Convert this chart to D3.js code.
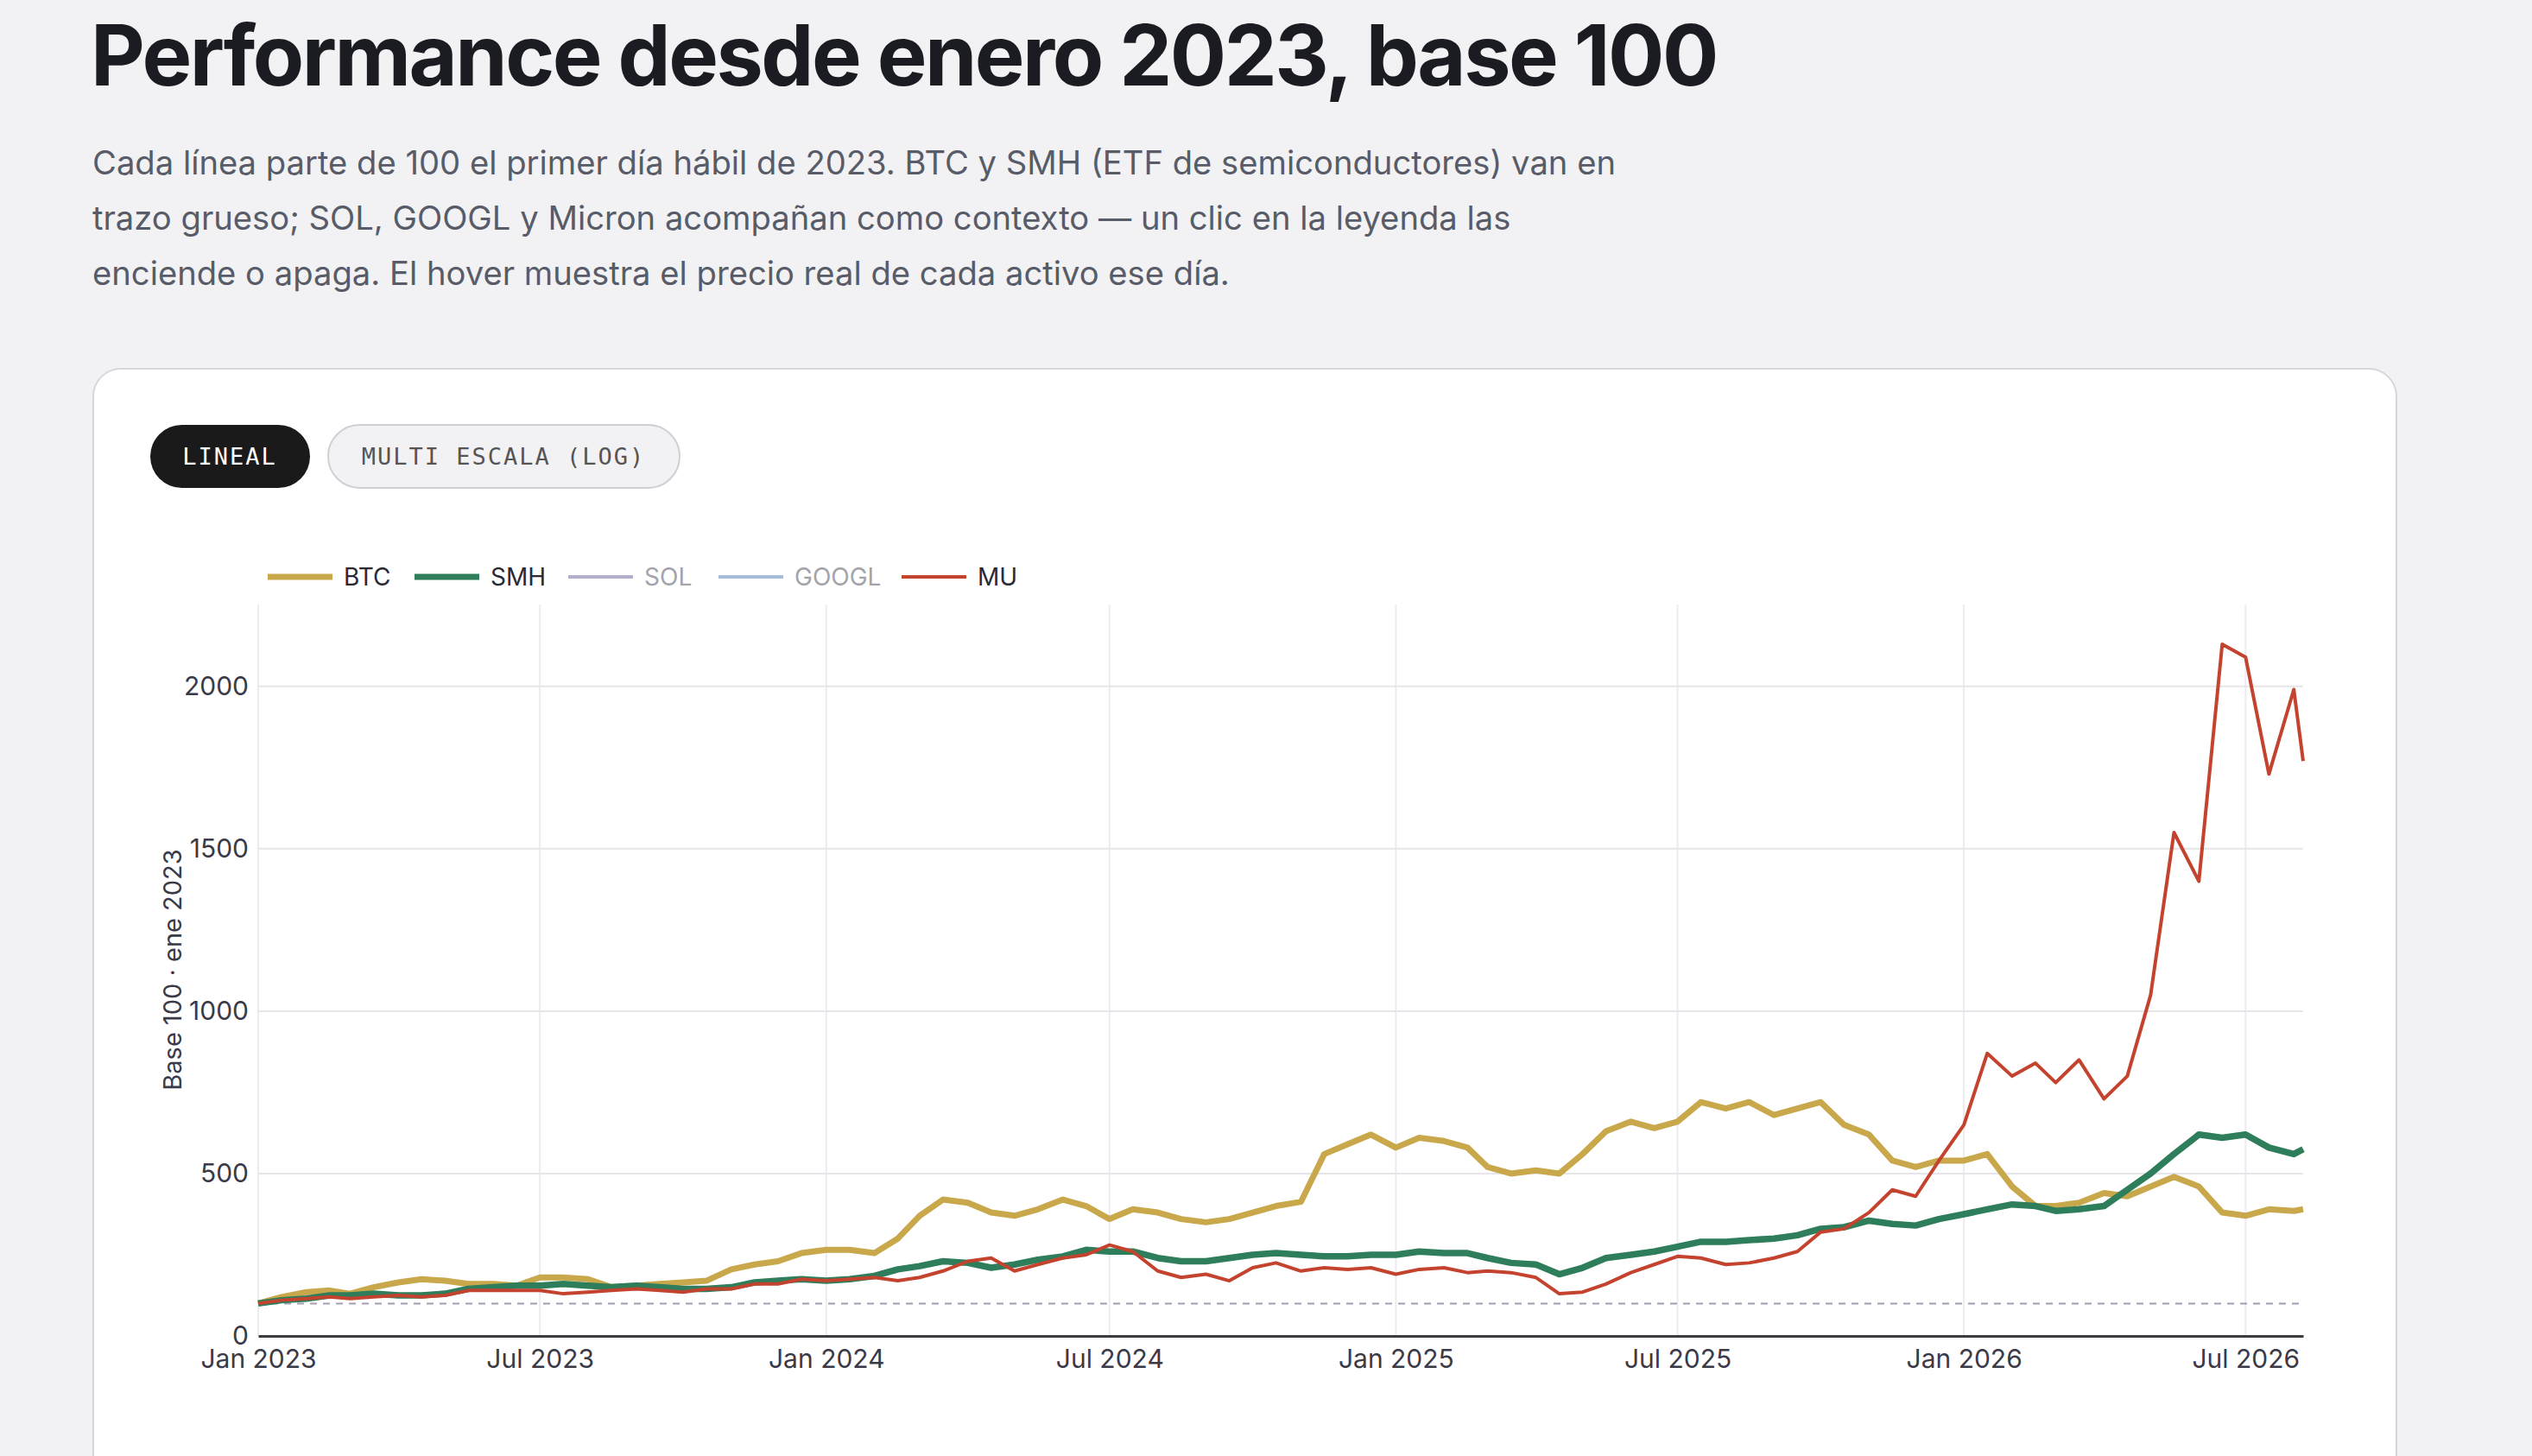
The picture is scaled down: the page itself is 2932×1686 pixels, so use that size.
<!DOCTYPE html>
<html>
<head>
<meta charset="utf-8">
<script src="https://cdn.jsdelivr.net/npm/d3@7"></script>
<style>
  body { margin: 0; background: #f2f2f4; }
  svg { display: block; }
</style>
</head>
<body>
<svg id="chart" width="2932" height="1686"></svg>
<script>
// semi-monthly sample dates (1st and 16th), last point Aug 7 2026
const dates = [
  "2023-01-01","2023-01-16","2023-02-01","2023-02-16","2023-03-01","2023-03-16","2023-04-01","2023-04-16","2023-05-01","2023-05-16","2023-06-01","2023-06-16",
  "2023-07-01","2023-07-16","2023-08-01","2023-08-16","2023-09-01","2023-09-16","2023-10-01","2023-10-16","2023-11-01","2023-11-16","2023-12-01","2023-12-16",
  "2024-01-01","2024-01-16","2024-02-01","2024-02-16","2024-03-01","2024-03-16","2024-04-01","2024-04-16","2024-05-01","2024-05-16","2024-06-01","2024-06-16",
  "2024-07-01","2024-07-16","2024-08-01","2024-08-16","2024-09-01","2024-09-16","2024-10-01","2024-10-16","2024-11-01","2024-11-16","2024-12-01","2024-12-16",
  "2025-01-01","2025-01-16","2025-02-01","2025-02-16","2025-03-01","2025-03-16","2025-04-01","2025-04-16","2025-05-01","2025-05-16","2025-06-01","2025-06-16",
  "2025-07-01","2025-07-16","2025-08-01","2025-08-16","2025-09-01","2025-09-16","2025-10-01","2025-10-16","2025-11-01","2025-11-16","2025-12-01","2025-12-16",
  "2026-01-01","2026-01-16","2026-02-01","2026-02-16","2026-03-01","2026-03-16","2026-04-01","2026-04-16","2026-05-01","2026-05-16","2026-06-01","2026-06-16",
  "2026-07-01","2026-07-16","2026-08-01","2026-08-07"
];

const btc = [
  100,120,135,140,130,150,165,175,170,160,160,155, 180,180,175,150,155,160,165,170,205,220,230,255,
  265,265,255,300,370,420,410,380,370,390,420,400, 360,390,380,360,350,360,380,400,413,560,590,620,
  580,610,600,580,520,500,510,500,560,630,660,640, 660,720,700,720,680,700,720,650,620,540,520,540,
  540,560,460,400,400,410,440,430,460,490,460,380, 370,390,385,390
];
const smh = [
  100,110,115,125,125,130,125,125,130,145,150,155, 155,160,155,150,155,150,145,145,150,165,170,175,
  170,175,185,205,215,230,225,210,220,235,245,265, 260,260,240,230,230,240,250,255,250,245,245,250,
  250,260,255,255,240,225,220,190,210,240,250,260, 275,290,290,295,300,310,330,335,355,345,340,360,
  375,390,405,400,385,390,400,450,500,560,620,610, 620,580,560,575
];
const mu = [
  100,110,115,120,115,120,125,120,125,140,140,140, 140,130,135,140,145,140,135,145,145,160,160,175,
  170,175,180,170,180,200,230,240,200,220,240,250, 280,260,200,180,190,170,210,225,200,210,205,210,
  190,205,210,195,200,195,180,130,135,160,195,220, 245,240,220,225,240,260,320,330,380,450,430,540,
  650,870,800,840,780,850,730,800,1050,1550,1400,2130, 2090,1730,1990,1770
];

const legendItems = [
  {name: "BTC", color: "#c9a84c", on: true, thick: true},
  {name: "SMH", color: "#2e7d5b", on: true, thick: true},
  {name: "SOL", color: "#b5aecb", on: false, thick: false},
  {name: "GOOGL", color: "#a6bcdb", on: false, thick: false},
  {name: "MU", color: "#c4432e", on: true, thick: false}
];
const yTicks = [0, 500, 1000, 1500, 2000];
const xTicks = ["2023-01-01","2023-07-01","2024-01-01","2024-07-01","2025-01-01","2025-07-01","2026-01-01","2026-07-01"];

const parse = d3.timeParse("%Y-%m-%d");
const svg = d3.select("#chart");
const font = "Inter, 'Noto Sans', sans-serif";

// header
svg.append("text").attr("x", 105).attr("y", 99)
  .attr("font-family", font).attr("font-weight", 700).attr("font-size", 97)
  .attr("letter-spacing", -2.5).attr("fill", "#1b1b22")
  .text("Performance desde enero 2023, base 100");

const sub = [
  "Cada línea parte de 100 el primer día hábil de 2023. BTC y SMH (ETF de semiconductores) van en",
  "trazo grueso; SOL, GOOGL y Micron acompañan como contexto — un clic en la leyenda las",
  "enciende o apaga. El hover muestra el precio real de cada activo ese día."
];
svg.append("g").selectAll("text").data(sub).enter().append("text")
  .attr("x", 107).attr("y", (d, i) => 202 + i * 64)
  .attr("font-family", font).attr("font-size", 38.2).attr("fill", "#585c68")
  .text(d => d);

// card
svg.append("rect").attr("x", 108).attr("y", 427).attr("width", 2667).attr("height", 1400)
  .attr("rx", 32).attr("fill", "#fff").attr("stroke", "#d6d6db").attr("stroke-width", 2);

// toggle buttons
const mono = "'DejaVu Sans Mono', 'Liberation Mono', monospace";
svg.append("rect").attr("x", 174).attr("y", 492).attr("width", 185).attr("height", 73)
  .attr("rx", 36.5).attr("fill", "#1a1a1a");
svg.append("text").attr("x", 266).attr("y", 538).attr("text-anchor", "middle")
  .attr("font-family", mono).attr("font-size", 27).attr("letter-spacing", 2).attr("fill", "#fff")
  .text("LINEAL");
svg.append("rect").attr("x", 380).attr("y", 492).attr("width", 407).attr("height", 73)
  .attr("rx", 36.5).attr("fill", "#f2f2f4").attr("stroke", "#cfcfd5").attr("stroke-width", 2);
svg.append("text").attr("x", 583).attr("y", 538).attr("text-anchor", "middle")
  .attr("font-family", mono).attr("font-size", 27).attr("letter-spacing", 2).attr("fill", "#555")
  .text("MULTI ESCALA (LOG)");

// legend
const legX = [310, 480, 658, 832, 1044];
const leg = svg.append("g").selectAll("g").data(legendItems).enter().append("g")
  .attr("transform", (d, i) => `translate(${legX[i]},668)`);
leg.append("line").attr("x1", 0).attr("x2", 75)
  .attr("stroke", d => d.color).attr("stroke-width", d => d.thick ? 7 : 4);
leg.append("text").attr("x", 88).attr("y", 10)
  .attr("font-family", font).attr("font-size", 28)
  .attr("fill", d => d.on ? "#2a2a35" : "#a3a3ab").text(d => d.name);

// plot
const x = d3.scaleTime().domain([parse("2023-01-01"), parse("2026-08-07")]).range([299, 2667]);
const y = d3.scaleLinear().domain([0, 2252]).range([1547, 700]);

svg.append("g").selectAll("line").data(xTicks).enter().append("line")
  .attr("x1", d => x(parse(d))).attr("x2", d => x(parse(d)))
  .attr("y1", 700).attr("y2", 1547).attr("stroke", "#ececf0").attr("stroke-width", 2);
svg.append("g").selectAll("line").data(yTicks.slice(1)).enter().append("line")
  .attr("x1", 299).attr("x2", 2667).attr("y1", d => y(d)).attr("y2", d => y(d))
  .attr("stroke", "#e6e6ea").attr("stroke-width", 2);

const yAxis = svg.append("g").attr("transform", "translate(296,0)")
  .call(d3.axisLeft(y).tickValues(yTicks).tickFormat(d3.format("d")).tickSize(0).tickPadding(8));
yAxis.select(".domain").remove();
yAxis.selectAll("text").attr("font-family", font).attr("font-size", 30).attr("fill", "#3a3a48");

const xAxis = svg.append("g").attr("transform", "translate(0,1547)")
  .call(d3.axisBottom(x).tickValues(xTicks.map(parse)).tickFormat(d3.timeFormat("%b %Y")).tickSize(0).tickPadding(16));
xAxis.select(".domain").attr("stroke", "#3b3b40").attr("stroke-width", 3);
xAxis.selectAll("text").attr("font-family", font).attr("font-size", 30).attr("fill", "#3a3a48");

svg.append("text").attr("transform", "translate(210,1123) rotate(-90)").attr("text-anchor", "middle")
  .attr("font-family", font).attr("font-size", 29).attr("fill", "#3a3a48")
  .text("Base 100 · ene 2023");

// base 100 reference
svg.append("line").attr("x1", 299).attr("x2", 2667).attr("y1", y(100)).attr("y2", y(100))
  .attr("stroke", "#a09db5").attr("stroke-width", 2).attr("stroke-dasharray", "8,7");

const line = d3.line().x((d, i) => x(parse(dates[i]))).y(d => y(d));
const series = [
  {v: btc, c: "#c9a84c", w: 7},
  {v: smh, c: "#2e7d5b", w: 7.5},
  {v: mu, c: "#c4432e", w: 4}
];
svg.append("g").selectAll("path").data(series).enter().append("path")
  .attr("d", d => line(d.v)).attr("fill", "none")
  .attr("stroke", d => d.c).attr("stroke-width", d => d.w).attr("stroke-linejoin", "round");
</script>
</body>
</html>
